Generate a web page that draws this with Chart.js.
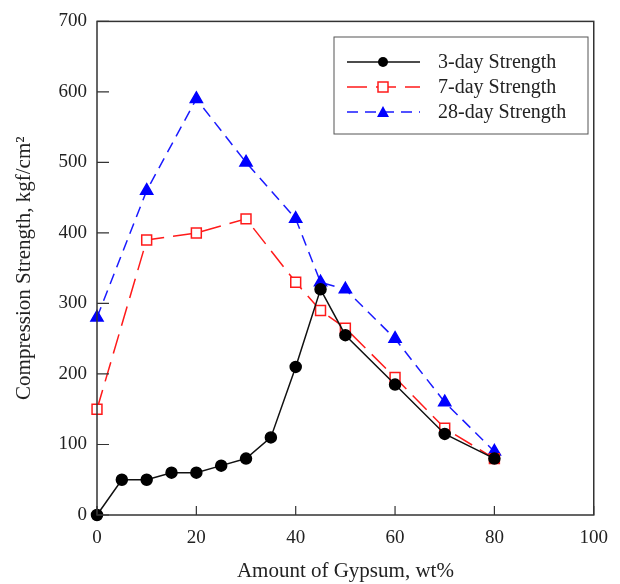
<!DOCTYPE html>
<html>
<head>
<meta charset="utf-8">
<script src="https://cdn.jsdelivr.net/npm/chart.js@4.4.0/dist/chart.umd.min.js"></script>
<style>
  html, body { margin: 0; padding: 0; background: #fff; }
  #wrap { width: 620px; height: 584px; }
</style>
</head>
<body>
<div id="wrap"><canvas id="chart" width="620" height="584"></canvas></div>
<script>
// dados
const gypsum3 = [0, 5, 10, 15, 20, 25, 30, 35, 40, 45, 50, 60, 70, 80];
const strength3 = [0, 50, 50, 60, 60, 70, 80, 110, 210, 320, 255, 185, 115, 80];

const gypsum7 = [0, 10, 20, 30, 40, 45, 50, 60, 70, 80];
const strength7 = [150, 390, 400, 420, 330, 290, 265, 195, 123, 80];

const gypsum28 = [0, 10, 20, 30, 40, 45, 50, 60, 70, 80];
const strength28 = [280, 460, 590, 500, 420, 330, 320, 250, 160, 90];

const seriesLabels = ["3-day Strength", "7-day Strength", "28-day Strength"];
const xTicks = [0, 20, 40, 60, 80, 100];
const yTicks = [0, 100, 200, 300, 400, 500, 600, 700];

const serif = "'Liberation Serif', 'DejaVu Serif', serif";

function pontos(xs, ys) {
  return xs.map((x, i) => ({ x: x, y: ys[i] }));
}

// moldura, marcas internas e legenda
const molduraPlugin = {
  id: "moldura",
  afterDraw(chart) {
    const ctx = chart.ctx;
    const a = chart.chartArea;
    const xs = chart.scales.x;
    const ys = chart.scales.y;
    ctx.save();
    ctx.strokeStyle = "#333";
    ctx.lineWidth = 1.5;
    ctx.strokeRect(a.left, a.top, a.right - a.left, a.bottom - a.top);

    ctx.lineWidth = 1.2;
    ctx.beginPath();
    xTicks.forEach(v => {
      const px = xs.getPixelForValue(v);
      ctx.moveTo(px, a.bottom);
      ctx.lineTo(px, a.bottom - 9);
    });
    yTicks.forEach(v => {
      const py = ys.getPixelForValue(v);
      ctx.moveTo(a.left, py);
      ctx.lineTo(a.left + 12, py);
    });
    ctx.stroke();

    // legenda
    const bx = 334, by = 37, bw = 254, bh = 97;
    ctx.fillStyle = "#fff";
    ctx.fillRect(bx, by, bw, bh);
    ctx.strokeStyle = "#555";
    ctx.lineWidth = 1;
    ctx.strokeRect(bx, by, bw, bh);

    chart.data.datasets.forEach((ds, i) => {
      const y = 62 + i * 25;
      ctx.strokeStyle = ds.borderColor;
      ctx.lineWidth = ds.borderWidth;
      ctx.setLineDash(ds.borderDash || []);
      ctx.beginPath();
      ctx.moveTo(347, y);
      ctx.lineTo(420, y);
      ctx.stroke();
      ctx.setLineDash([]);

      const mx = 383;
      ctx.fillStyle = ds.pointBackgroundColor;
      ctx.strokeStyle = ds.pointBorderColor;
      ctx.lineWidth = 1.5;
      if (ds.pointStyle === "circle") {
        ctx.beginPath();
        ctx.arc(mx, y, 5, 0, Math.PI * 2);
        ctx.fill();
      } else if (ds.pointStyle === "rect") {
        ctx.fillStyle = "#fff";
        ctx.fillRect(mx - 5, y - 5, 10, 10);
        ctx.strokeRect(mx - 5, y - 5, 10, 10);
      } else {
        ctx.beginPath();
        ctx.moveTo(mx, y - 6);
        ctx.lineTo(mx + 6, y + 5);
        ctx.lineTo(mx - 6, y + 5);
        ctx.closePath();
        ctx.fill();
      }

      ctx.fillStyle = "#222";
      ctx.font = "20px " + serif;
      ctx.textBaseline = "middle";
      ctx.textAlign = "left";
      ctx.fillText(ds.label, 438, y + 1);
    });
    ctx.restore();
  }
};

const ctx = document.getElementById("chart").getContext("2d");
new Chart(ctx, {
  type: "scatter",
  data: {
    datasets: [
      {
        label: seriesLabels[0],
        data: pontos(gypsum3, strength3),
        showLine: true,
        clip: false,
        borderColor: "#111",
        borderWidth: 1.5,
        pointStyle: "circle",
        pointRadius: 5.5,
        pointBackgroundColor: "#000",
        pointBorderColor: "#000",
        order: 1
      },
      {
        label: seriesLabels[1],
        data: pontos(gypsum7, strength7),
        showLine: true,
        clip: false,
        borderColor: "#ff1a1a",
        borderWidth: 1.5,
        borderDash: [20, 9],
        pointStyle: "rect",
        pointRadius: 7,
        pointBorderWidth: 1.5,
        pointBackgroundColor: "#fff",
        pointBorderColor: "#ff1a1a",
        order: 2
      },
      {
        label: seriesLabels[2],
        data: pontos(gypsum28, strength28),
        showLine: true,
        clip: false,
        borderColor: "#1a1aff",
        borderWidth: 1.5,
        borderDash: [11, 7],
        pointStyle: "triangle",
        pointRadius: 7,
        pointBackgroundColor: "#0000ff",
        pointBorderColor: "#0000ff",
        order: 3
      }
    ]
  },
  options: {
    responsive: false,
    animation: false,
    layout: { padding: { top: 17, right: 23, left: 0, bottom: 0 } },
    plugins: {
      legend: { display: false },
      tooltip: { enabled: false }
    },
    scales: {
      x: {
        type: "linear",
        min: 0,
        max: 100,
        afterBuildTicks: s => { s.ticks = xTicks.map(v => ({ value: v })); },
        afterFit: s => { s.height = 69; },
        grid: { display: false, drawTicks: false },
        border: { display: false },
        ticks: { color: "#222", padding: 12, maxRotation: 0, font: { family: serif, size: 19 } },
        title: {
          display: true,
          text: "Amount of Gypsum, wt%",
          color: "#222",
          padding: { top: 10, bottom: 0 },
          font: { family: serif, size: 21 }
        }
      },
      y: {
        min: 0,
        max: 700,
        afterBuildTicks: s => { s.ticks = yTicks.map(v => ({ value: v })); },
        afterFit: s => { s.width = 97; },
        grid: { display: false, drawTicks: false },
        border: { display: false },
        ticks: { color: "#222", padding: 10, font: { family: serif, size: 19 } },
        title: {
          display: true,
          text: "Compression Strength, kgf/cm²",
          color: "#222",
          padding: { top: 12, bottom: 0 },
          font: { family: serif, size: 21 }
        }
      }
    }
  },
  plugins: [molduraPlugin]
});
</script>
</body>
</html>
